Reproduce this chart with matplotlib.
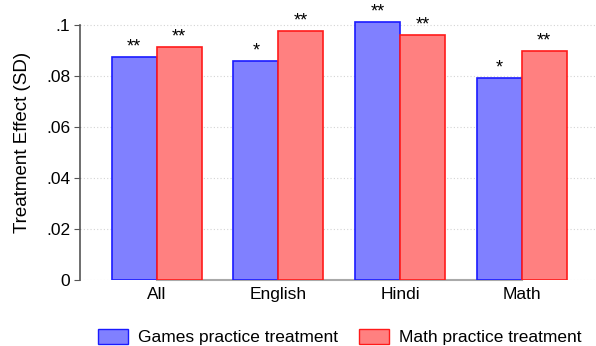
import numpy as np
import matplotlib
matplotlib.use("Agg")
import matplotlib.pyplot as plt
from matplotlib.patches import Patch

plt.rcParams['font.family'] = ['Liberation Sans', 'DejaVu Sans']

# effect sizes by subject
subjects = ['All', 'English', 'Hindi', 'Math']
games_effect = [0.0875, 0.0859, 0.1012, 0.0792]
math_effect = [0.0914, 0.0976, 0.0961, 0.0899]
games_stars = ['**', '*', '**', '*']
math_stars = ['**', '**', '**', '**']

games_fill, games_edge = '#8080ff', '#1a1aff'
math_fill, math_edge = '#ff8080', '#ff1a1a'

fig = plt.figure(figsize=(5.96, 3.46), dpi=100)
ax = fig.add_axes([0.134, 0.191, 0.864, 0.796])

x = np.arange(len(subjects))
w = 0.37
b1 = ax.bar(x - w/2, games_effect, w, color=games_fill, edgecolor=games_edge, linewidth=1.2, zorder=3)
b2 = ax.bar(x + w/2, math_effect, w, color=math_fill, edgecolor=math_edge, linewidth=1.2, zorder=3)

for bars, vals, stars in [(b1, games_effect, games_stars), (b2, math_effect, math_stars)]:
    for rect, v, s in zip(bars, vals, stars):
        ax.annotate(s, (rect.get_x() + rect.get_width()/2, v), xytext=(0, 1),
                    textcoords='offset points', ha='center', va='bottom', fontsize=13)

ax.set_xlim(-0.63, 3.6)
ax.set_ylim(0, 0.108)
ax.set_yticks([0, 0.02, 0.04, 0.06, 0.08, 0.1])
ax.set_yticklabels(['0', '.02', '.04', '.06', '.08', '.1'])
ax.set_xticks(x)
ax.set_xticklabels(subjects)
ax.tick_params(axis='x', length=0, labelsize=12.5, pad=5)
ax.tick_params(axis='y', length=4, color='#555555', labelsize=12.5, pad=3)

for yv in [0, 0.02, 0.04, 0.06, 0.08, 0.1]:
    ax.axhline(yv, color='#d4d4d4', lw=0.8, ls=(0, (1, 2)), zorder=1)

for side in ['top', 'right', 'bottom']:
    ax.spines[side].set_visible(False)
ax.spines['left'].set_bounds(0, 0.1)
ax.spines['left'].set_color('#555555')
ax.spines['left'].set_linewidth(1.2)
ax.plot([0, 3], [0, 0], color='#aaaaaa', lw=1.5, zorder=2, clip_on=False)

ax.set_ylabel('Treatment Effect (SD)', fontsize=13.5, labelpad=11)

handles = [Patch(facecolor=games_fill, edgecolor=games_edge, label='Games practice treatment'),
           Patch(facecolor=math_fill, edgecolor=math_edge, label='Math practice treatment')]
fig.legend(handles=handles, loc='center', bbox_to_anchor=(0.570, 0.026), ncol=2, frameon=False,
           fontsize=12.5, handlelength=1.73, handleheight=1.0, columnspacing=1.2, handletextpad=0.58)

fig.savefig('out.png', dpi=100)
